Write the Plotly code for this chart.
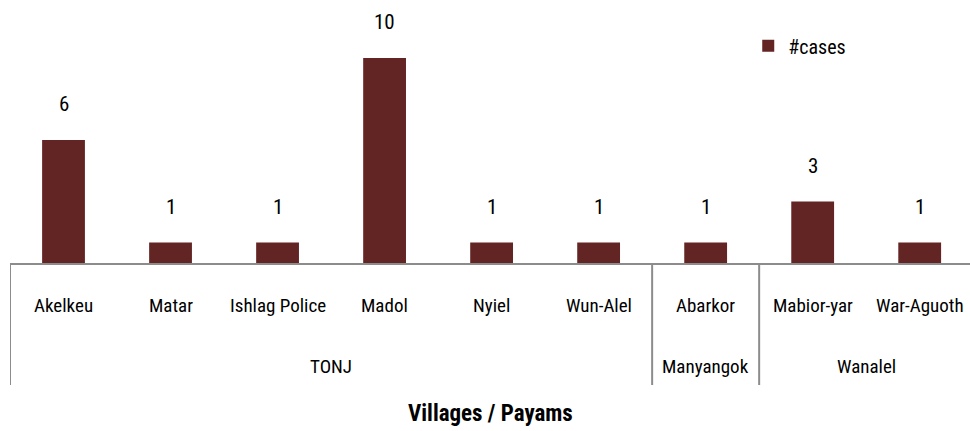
import plotly.graph_objects as go

villages = ["Akelkeu", "Matar", "Ishlag Police", "Madol", "Nyiel", "Wun-Alel",
            "Abarkor", "Mabior-yar", "War-Aguoth"]
payams = ["TONJ", "TONJ", "TONJ", "TONJ", "TONJ", "TONJ",
          "Manyangok", "Wanalel", "Wanalel"]
cases = [6, 1, 1, 10, 1, 1, 1, 3, 1]
series_name = "#cases"
axis_title = "Villages / Payams"

FONT = "Liberation Sans Narrow, Arial Narrow, Roboto Condensed, Liberation Sans, sans-serif"
BAR = "#632523"
GRID = "#8c8c8c"

xs = list(range(len(villages)))

fig = go.Figure()
fig.add_trace(go.Bar(x=xs, y=cases, name=series_name, width=0.4,
                     marker=dict(color=BAR, line=dict(width=0)),
                     showlegend=True))

annotations = []
# value labels
for x, v in zip(xs, cases):
    annotations.append(dict(x=x, y=v, xref="x", yref="y", text=str(v),
                            showarrow=False, yanchor="bottom", yshift=22,
                            font=dict(family=FONT, size=21, color="#000")))
# category labels
for x, name in zip(xs, villages):
    annotations.append(dict(x=x, y=0, xref="x", yref="paper", text=name,
                            showarrow=False, yanchor="middle", yshift=-42,
                            font=dict(family=FONT, size=19, color="#000")))
# groups
groups = []
for i, p in enumerate(payams):
    if groups and groups[-1][0] == p:
        groups[-1][2] = i
    else:
        groups.append([p, i, i])
shapes = []
for p, a, b in groups:
    annotations.append(dict(x=(a + b) / 2, y=0, xref="x", yref="paper", text=p,
                            showarrow=False, yanchor="middle", yshift=-103,
                            font=dict(family=FONT, size=19, color="#000")))
    shapes.append(dict(type="line", xref="x", yref="paper", x0=a - 0.5, x1=a - 0.5,
                       y0=0, y1=-0.464, line=dict(color=GRID, width=2)))

annotations.append(dict(x=0.5, y=0, xref="paper", yref="paper", text="<b>" + axis_title + "</b>",
                        showarrow=False, yanchor="middle", yshift=-150,
                        font=dict(family=FONT, size=23, color="#000")))

fig.update_layout(
    width=970, height=431,
    margin=dict(l=10, r=0, t=0, b=168),
    paper_bgcolor="white", plot_bgcolor="white",
    xaxis=dict(range=[-0.5, 8.47], showticklabels=False, showgrid=False,
               zeroline=False, showline=True, linecolor=GRID, linewidth=2,
               ticks=""),
    yaxis=dict(range=[0, 12.83], visible=False, showgrid=False, zeroline=False),
    legend=dict(x=0.769, y=0.9, xanchor="left", yanchor="top",
                font=dict(family=FONT, size=20, color="#000"),
                itemwidth=30, bgcolor="rgba(0,0,0,0)"),
    annotations=annotations,
    shapes=shapes,
    bargap=0.6,
)

fig.write_html("out.html", config={"displayModeBar": False},
               post_script="document.body.style.margin='0';")
